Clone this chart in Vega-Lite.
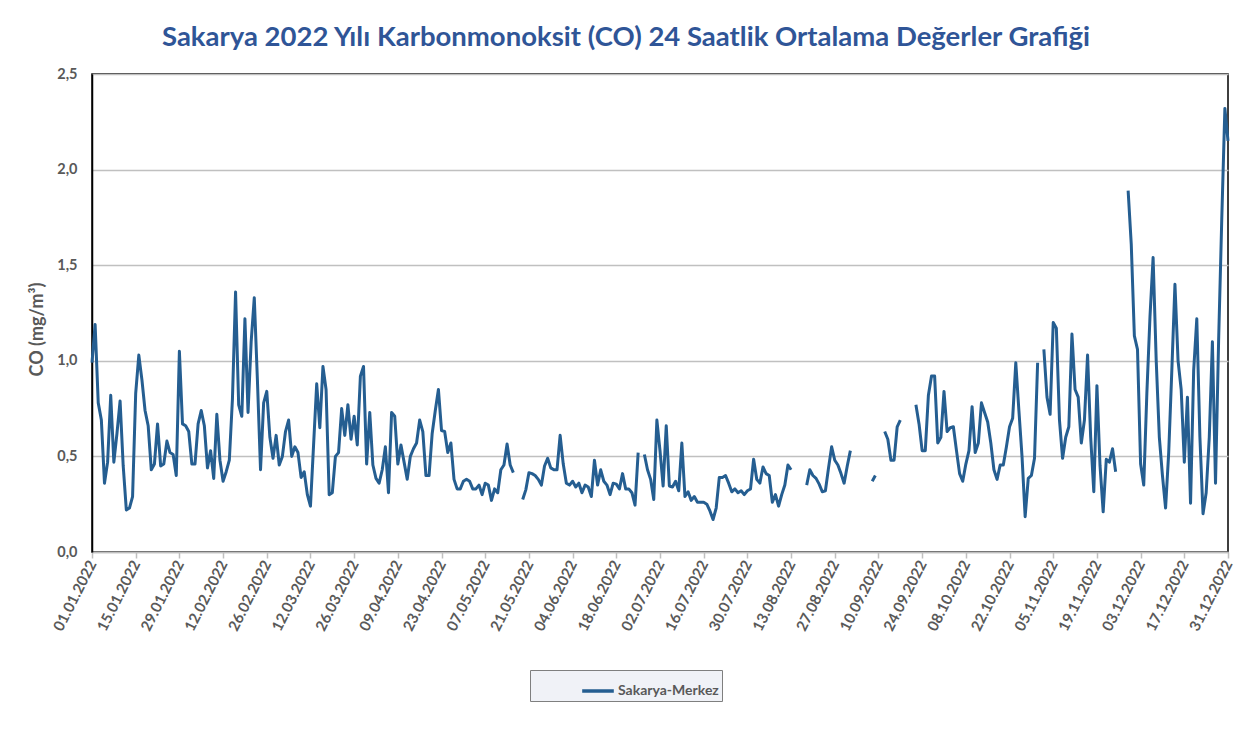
{
"$schema": "https://vega.github.io/schema/vega-lite/v6.json",
"width": 1136,
"height": 478,
"autosize": "none",
"padding": {"left": 92, "top": 74, "right": 22, "bottom": 197},
"background": "white",
"title": {"text": "Sakarya 2022 Yılı Karbonmonoksit (CO) 24 Saatlik Ortalama Değerler Grafiği", "font": "Lato", "fontSize": 27.5, "fontWeight": "bold", "color": "#2F5597", "anchor": "middle", "dx": -34, "offset": 15},
"config": {"view": {"stroke": "#000000", "strokeWidth": 1.5}},
"data": {"values": [
{"date":"2022-01-01","co":0.99},{"date":"2022-01-02","co":1.19},{"date":"2022-01-03","co":0.78},{"date":"2022-01-04","co":0.69},{"date":"2022-01-05","co":0.36},{"date":"2022-01-06","co":0.47},{"date":"2022-01-07","co":0.82},{"date":"2022-01-08","co":0.47},{"date":"2022-01-09","co":0.62},{"date":"2022-01-10","co":0.79},{"date":"2022-01-11","co":0.45},{"date":"2022-01-12","co":0.22},{"date":"2022-01-13","co":0.23},{"date":"2022-01-14","co":0.29},{"date":"2022-01-15","co":0.83},{"date":"2022-01-16","co":1.03},{"date":"2022-01-17","co":0.90},{"date":"2022-01-18","co":0.74},{"date":"2022-01-19","co":0.66},{"date":"2022-01-20","co":0.43},{"date":"2022-01-21","co":0.46},{"date":"2022-01-22","co":0.67},{"date":"2022-01-23","co":0.45},{"date":"2022-01-24","co":0.46},{"date":"2022-01-25","co":0.58},{"date":"2022-01-26","co":0.52},{"date":"2022-01-27","co":0.51},{"date":"2022-01-28","co":0.40},{"date":"2022-01-29","co":1.05},{"date":"2022-01-30","co":0.67},{"date":"2022-01-31","co":0.66},
{"date":"2022-02-01","co":0.63},{"date":"2022-02-02","co":0.46},{"date":"2022-02-03","co":0.46},{"date":"2022-02-04","co":0.67},{"date":"2022-02-05","co":0.74},{"date":"2022-02-06","co":0.66},{"date":"2022-02-07","co":0.44},{"date":"2022-02-08","co":0.53},{"date":"2022-02-09","co":0.385},{"date":"2022-02-10","co":0.72},{"date":"2022-02-11","co":0.48},{"date":"2022-02-12","co":0.37},{"date":"2022-02-13","co":0.42},{"date":"2022-02-14","co":0.48},{"date":"2022-02-15","co":0.80},{"date":"2022-02-16","co":1.36},{"date":"2022-02-17","co":0.77},{"date":"2022-02-18","co":0.71},{"date":"2022-02-19","co":1.22},{"date":"2022-02-20","co":0.73},{"date":"2022-02-21","co":1.10},{"date":"2022-02-22","co":1.33},{"date":"2022-02-23","co":0.90},{"date":"2022-02-24","co":0.43},{"date":"2022-02-25","co":0.78},{"date":"2022-02-26","co":0.84},{"date":"2022-02-27","co":0.60},{"date":"2022-02-28","co":0.49},
{"date":"2022-03-01","co":0.61},{"date":"2022-03-02","co":0.455},{"date":"2022-03-03","co":0.50},{"date":"2022-03-04","co":0.63},{"date":"2022-03-05","co":0.69},{"date":"2022-03-06","co":0.50},{"date":"2022-03-07","co":0.55},{"date":"2022-03-08","co":0.52},{"date":"2022-03-09","co":0.39},{"date":"2022-03-10","co":0.42},{"date":"2022-03-11","co":0.30},{"date":"2022-03-12","co":0.24},{"date":"2022-03-13","co":0.56},{"date":"2022-03-14","co":0.88},{"date":"2022-03-15","co":0.65},{"date":"2022-03-16","co":0.97},{"date":"2022-03-17","co":0.85},{"date":"2022-03-18","co":0.30},{"date":"2022-03-19","co":0.31},{"date":"2022-03-20","co":0.50},{"date":"2022-03-21","co":0.52},{"date":"2022-03-22","co":0.75},{"date":"2022-03-23","co":0.61},{"date":"2022-03-24","co":0.77},{"date":"2022-03-25","co":0.59},{"date":"2022-03-26","co":0.71},{"date":"2022-03-27","co":0.56},{"date":"2022-03-28","co":0.92},{"date":"2022-03-29","co":0.97},{"date":"2022-03-30","co":0.46},{"date":"2022-03-31","co":0.73},
{"date":"2022-04-01","co":0.455},{"date":"2022-04-02","co":0.385},{"date":"2022-04-03","co":0.36},{"date":"2022-04-04","co":0.43},{"date":"2022-04-05","co":0.55},{"date":"2022-04-06","co":0.31},{"date":"2022-04-07","co":0.73},{"date":"2022-04-08","co":0.71},{"date":"2022-04-09","co":0.46},{"date":"2022-04-10","co":0.56},{"date":"2022-04-11","co":0.47},{"date":"2022-04-12","co":0.38},{"date":"2022-04-13","co":0.50},{"date":"2022-04-14","co":0.54},{"date":"2022-04-15","co":0.57},{"date":"2022-04-16","co":0.69},{"date":"2022-04-17","co":0.63},{"date":"2022-04-18","co":0.40},{"date":"2022-04-19","co":0.40},{"date":"2022-04-20","co":0.62},{"date":"2022-04-21","co":0.74},{"date":"2022-04-22","co":0.85},{"date":"2022-04-23","co":0.635},{"date":"2022-04-24","co":0.63},{"date":"2022-04-25","co":0.52},{"date":"2022-04-26","co":0.57},{"date":"2022-04-27","co":0.38},{"date":"2022-04-28","co":0.33},{"date":"2022-04-29","co":0.33},{"date":"2022-04-30","co":0.37},
{"date":"2022-05-01","co":0.38},{"date":"2022-05-02","co":0.37},{"date":"2022-05-03","co":0.33},{"date":"2022-05-04","co":0.33},{"date":"2022-05-05","co":0.35},{"date":"2022-05-06","co":0.30},{"date":"2022-05-07","co":0.36},{"date":"2022-05-08","co":0.35},{"date":"2022-05-09","co":0.27},{"date":"2022-05-10","co":0.33},{"date":"2022-05-11","co":0.31},{"date":"2022-05-12","co":0.43},{"date":"2022-05-13","co":0.455},{"date":"2022-05-14","co":0.565},{"date":"2022-05-15","co":0.455},{"date":"2022-05-16","co":0.415},{"date":"2022-05-17","co":null},{"date":"2022-05-18","co":null},{"date":"2022-05-19","co":0.275},{"date":"2022-05-20","co":0.325},{"date":"2022-05-21","co":0.415},{"date":"2022-05-22","co":0.41},{"date":"2022-05-23","co":0.40},{"date":"2022-05-24","co":0.38},{"date":"2022-05-25","co":0.35},{"date":"2022-05-26","co":0.45},{"date":"2022-05-27","co":0.49},{"date":"2022-05-28","co":0.44},{"date":"2022-05-29","co":0.43},{"date":"2022-05-30","co":0.43},{"date":"2022-05-31","co":0.61},
{"date":"2022-06-01","co":0.46},{"date":"2022-06-02","co":0.36},{"date":"2022-06-03","co":0.35},{"date":"2022-06-04","co":0.37},{"date":"2022-06-05","co":0.34},{"date":"2022-06-06","co":0.36},{"date":"2022-06-07","co":0.31},{"date":"2022-06-08","co":0.35},{"date":"2022-06-09","co":0.34},{"date":"2022-06-10","co":0.29},{"date":"2022-06-11","co":0.48},{"date":"2022-06-12","co":0.35},{"date":"2022-06-13","co":0.43},{"date":"2022-06-14","co":0.37},{"date":"2022-06-15","co":0.35},{"date":"2022-06-16","co":0.30},{"date":"2022-06-17","co":0.36},{"date":"2022-06-18","co":0.355},{"date":"2022-06-19","co":0.33},{"date":"2022-06-20","co":0.41},{"date":"2022-06-21","co":0.33},{"date":"2022-06-22","co":0.33},{"date":"2022-06-23","co":0.31},{"date":"2022-06-24","co":0.245},{"date":"2022-06-25","co":0.52},{"date":"2022-06-26","co":null},{"date":"2022-06-27","co":0.51},{"date":"2022-06-28","co":0.43},{"date":"2022-06-29","co":0.38},{"date":"2022-06-30","co":0.275},
{"date":"2022-07-01","co":0.69},{"date":"2022-07-02","co":0.53},{"date":"2022-07-03","co":0.345},{"date":"2022-07-04","co":0.66},{"date":"2022-07-05","co":0.345},{"date":"2022-07-06","co":0.34},{"date":"2022-07-07","co":0.37},{"date":"2022-07-08","co":0.32},{"date":"2022-07-09","co":0.57},{"date":"2022-07-10","co":0.29},{"date":"2022-07-11","co":0.315},{"date":"2022-07-12","co":0.27},{"date":"2022-07-13","co":0.29},{"date":"2022-07-14","co":0.26},{"date":"2022-07-15","co":0.26},{"date":"2022-07-16","co":0.26},{"date":"2022-07-17","co":0.25},{"date":"2022-07-18","co":0.215},{"date":"2022-07-19","co":0.17},{"date":"2022-07-20","co":0.23},{"date":"2022-07-21","co":0.39},{"date":"2022-07-22","co":0.39},{"date":"2022-07-23","co":0.40},{"date":"2022-07-24","co":0.36},{"date":"2022-07-25","co":0.315},{"date":"2022-07-26","co":0.33},{"date":"2022-07-27","co":0.31},{"date":"2022-07-28","co":0.32},{"date":"2022-07-29","co":0.30},{"date":"2022-07-30","co":0.32},{"date":"2022-07-31","co":0.33},
{"date":"2022-08-01","co":0.485},{"date":"2022-08-02","co":0.38},{"date":"2022-08-03","co":0.36},{"date":"2022-08-04","co":0.445},{"date":"2022-08-05","co":0.41},{"date":"2022-08-06","co":0.40},{"date":"2022-08-07","co":0.26},{"date":"2022-08-08","co":0.30},{"date":"2022-08-09","co":0.24},{"date":"2022-08-10","co":0.30},{"date":"2022-08-11","co":0.35},{"date":"2022-08-12","co":0.455},{"date":"2022-08-13","co":0.43},{"date":"2022-08-14","co":null},{"date":"2022-08-15","co":null},{"date":"2022-08-16","co":null},{"date":"2022-08-17","co":null},{"date":"2022-08-18","co":0.35},{"date":"2022-08-19","co":0.43},{"date":"2022-08-20","co":0.40},{"date":"2022-08-21","co":0.385},{"date":"2022-08-22","co":0.355},{"date":"2022-08-23","co":0.315},{"date":"2022-08-24","co":0.32},{"date":"2022-08-25","co":0.44},{"date":"2022-08-26","co":0.55},{"date":"2022-08-27","co":0.48},{"date":"2022-08-28","co":0.455},{"date":"2022-08-29","co":0.41},{"date":"2022-08-30","co":0.36},{"date":"2022-08-31","co":0.45},
{"date":"2022-09-01","co":0.53},{"date":"2022-09-02","co":null},{"date":"2022-09-03","co":null},{"date":"2022-09-04","co":null},{"date":"2022-09-05","co":null},{"date":"2022-09-06","co":null},{"date":"2022-09-07","co":null},{"date":"2022-09-08","co":0.37},{"date":"2022-09-09","co":0.40},{"date":"2022-09-10","co":null},{"date":"2022-09-11","co":null},{"date":"2022-09-12","co":0.63},{"date":"2022-09-13","co":0.59},{"date":"2022-09-14","co":0.48},{"date":"2022-09-15","co":0.48},{"date":"2022-09-16","co":0.655},{"date":"2022-09-17","co":0.69},{"date":"2022-09-18","co":null},{"date":"2022-09-19","co":null},{"date":"2022-09-20","co":null},{"date":"2022-09-21","co":null},{"date":"2022-09-22","co":0.77},{"date":"2022-09-23","co":0.67},{"date":"2022-09-24","co":0.53},{"date":"2022-09-25","co":0.53},{"date":"2022-09-26","co":0.82},{"date":"2022-09-27","co":0.92},{"date":"2022-09-28","co":0.92},{"date":"2022-09-29","co":0.57},{"date":"2022-09-30","co":0.60},
{"date":"2022-10-01","co":0.84},{"date":"2022-10-02","co":0.63},{"date":"2022-10-03","co":0.65},{"date":"2022-10-04","co":0.655},{"date":"2022-10-05","co":0.53},{"date":"2022-10-06","co":0.41},{"date":"2022-10-07","co":0.37},{"date":"2022-10-08","co":0.46},{"date":"2022-10-09","co":0.53},{"date":"2022-10-10","co":0.76},{"date":"2022-10-11","co":0.52},{"date":"2022-10-12","co":0.57},{"date":"2022-10-13","co":0.78},{"date":"2022-10-14","co":0.73},{"date":"2022-10-15","co":0.68},{"date":"2022-10-16","co":0.57},{"date":"2022-10-17","co":0.43},{"date":"2022-10-18","co":0.38},{"date":"2022-10-19","co":0.455},{"date":"2022-10-20","co":0.455},{"date":"2022-10-21","co":0.55},{"date":"2022-10-22","co":0.655},{"date":"2022-10-23","co":0.70},{"date":"2022-10-24","co":0.99},{"date":"2022-10-25","co":0.74},{"date":"2022-10-26","co":0.50},{"date":"2022-10-27","co":0.185},{"date":"2022-10-28","co":0.385},{"date":"2022-10-29","co":0.40},{"date":"2022-10-30","co":0.49},{"date":"2022-10-31","co":0.99},
{"date":"2022-11-01","co":null},{"date":"2022-11-02","co":1.06},{"date":"2022-11-03","co":0.81},{"date":"2022-11-04","co":0.72},{"date":"2022-11-05","co":1.20},{"date":"2022-11-06","co":1.17},{"date":"2022-11-07","co":0.69},{"date":"2022-11-08","co":0.49},{"date":"2022-11-09","co":0.60},{"date":"2022-11-10","co":0.655},{"date":"2022-11-11","co":1.14},{"date":"2022-11-12","co":0.85},{"date":"2022-11-13","co":0.81},{"date":"2022-11-14","co":0.57},{"date":"2022-11-15","co":0.69},{"date":"2022-11-16","co":1.03},{"date":"2022-11-17","co":0.60},{"date":"2022-11-18","co":0.315},{"date":"2022-11-19","co":0.87},{"date":"2022-11-20","co":0.45},{"date":"2022-11-21","co":0.21},{"date":"2022-11-22","co":0.485},{"date":"2022-11-23","co":0.47},{"date":"2022-11-24","co":0.54},{"date":"2022-11-25","co":0.42},{"date":"2022-11-26","co":null},{"date":"2022-11-27","co":null},{"date":"2022-11-28","co":null},{"date":"2022-11-29","co":1.89},{"date":"2022-11-30","co":1.61},
{"date":"2022-12-01","co":1.13},{"date":"2022-12-02","co":1.06},{"date":"2022-12-03","co":0.46},{"date":"2022-12-04","co":0.35},{"date":"2022-12-05","co":0.83},{"date":"2022-12-06","co":1.23},{"date":"2022-12-07","co":1.54},{"date":"2022-12-08","co":1.00},{"date":"2022-12-09","co":0.60},{"date":"2022-12-10","co":0.40},{"date":"2022-12-11","co":0.23},{"date":"2022-12-12","co":0.52},{"date":"2022-12-13","co":0.95},{"date":"2022-12-14","co":1.40},{"date":"2022-12-15","co":1.00},{"date":"2022-12-16","co":0.85},{"date":"2022-12-17","co":0.47},{"date":"2022-12-18","co":0.81},{"date":"2022-12-19","co":0.255},{"date":"2022-12-20","co":0.95},{"date":"2022-12-21","co":1.22},{"date":"2022-12-22","co":0.60},{"date":"2022-12-23","co":0.20},{"date":"2022-12-24","co":0.31},{"date":"2022-12-25","co":0.60},{"date":"2022-12-26","co":1.10},{"date":"2022-12-27","co":0.36},{"date":"2022-12-28","co":1.11},{"date":"2022-12-29","co":1.74},{"date":"2022-12-30","co":2.32},{"date":"2022-12-31","co":2.15}
]},
"mark": {"type": "line", "strokeWidth": 3, "strokeJoin": "round", "invalid": "break-paths-filter-domains"},
"encoding": {
"x": {"field": "date", "type": "temporal",
 "scale": {"type": "utc", "domain": [{"year": 2022, "month": 1, "date": 1, "utc": true}, {"year": 2022, "month": 12, "date": 31, "utc": true}], "nice": false},
 "axis": {"title": null, "grid": false,
  "values": [1640995200000,1642204800000,1643414400000,1644624000000,1645833600000,1647043200000,1648252800000,1649462400000,1650672000000,1651881600000,1653091200000,1654300800000,1655510400000,1656720000000,1657929600000,1659139200000,1660348800000,1661558400000,1662768000000,1663977600000,1665187200000,1666396800000,1667606400000,1668816000000,1670025600000,1671235200000,1672444800000],
  "labelExpr": "utcFormat(datum.value, '%d.%m.%Y')",
  "labelAngle": -63, "labelAlign": "right", "labelBaseline": "middle",
  "labelFont": "Lato", "labelFontSize": 15, "labelFontWeight": "bold", "labelColor": "#595959",
  "labelPadding": 3, "labelOverlap": false, "labelFlush": false, "labelBound": false,
  "tickColor": "#BFBFBF", "tickSize": 6, "tickWidth": 1.5,
  "domainColor": "#BFBFBF", "domainWidth": 1.5}},
"y": {"field": "co", "type": "quantitative",
 "scale": {"domain": [0, 2.5], "nice": false, "zero": true},
 "axis": {"title": "CO  (mg/m³)", "values": [0, 0.5, 1, 1.5, 2, 2.5],
  "labelExpr": "replace(format(datum.value, '.1f'), '.', ',')",
  "labelFont": "Lato", "labelFontSize": 14.5, "labelFontWeight": "bold", "labelColor": "#595959",
  "ticks": false, "labelPadding": 15,
  "domainColor": "#000000", "domainWidth": 1.5,
  "gridColor": "#C0C0C0", "gridWidth": 1.5,
  "titleFont": "Lato", "titleFontSize": 18, "titleFontWeight": "bold", "titleColor": "#595959", "titlePadding": 10, "titleY": 255}},
"color": {"datum": "Sakarya-Merkez", "type": "nominal", "scale": {"range": ["#255E91"]},
 "legend": {"orient": "none", "legendX": 438, "legendY": 596, "title": null,
  "symbolType": "stroke", "symbolStrokeWidth": 3.5, "symbolSize": 1000,
  "labelFont": "Lato", "labelFontSize": 14, "labelFontWeight": "bold", "labelColor": "#595959",
  "fillColor": "#F0F2F7", "strokeColor": "#7F7F7F", "padding": 3, "symbolOffset": 47, "labelOffset": 2}}
}
}
